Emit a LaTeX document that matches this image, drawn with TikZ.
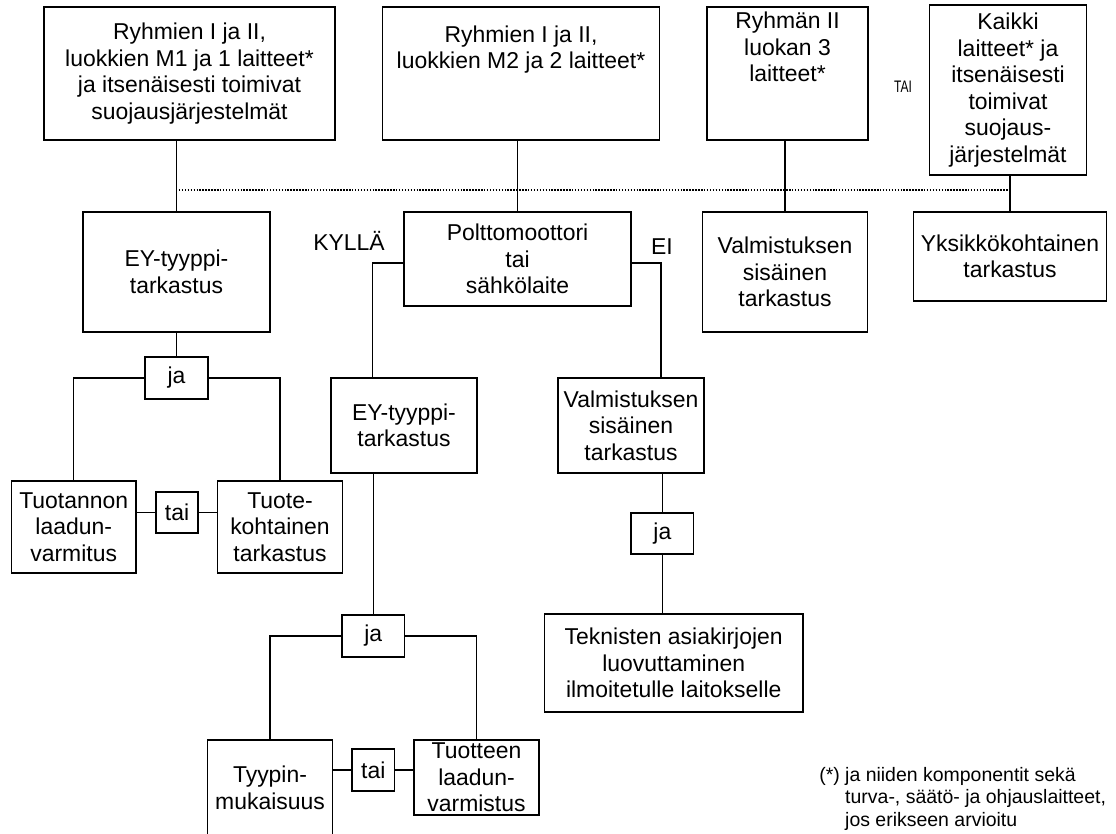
\documentclass[tikz,border=0pt]{standalone}
\usepackage{fontspec}
\setmainfont{Liberation Sans}
\newfontfamily\narrowsans[FakeStretch=0.72]{Liberation Sans}

\begin{document}
\begin{tikzpicture}[x=0.75pt, y=-0.75pt,
    box/.style={draw, line width=0.9pt, align=center, inner sep=0pt,
      font=\fontsize{17.2}{19.9}\selectfont},
    sz/.style 2 args={minimum width=#1*0.75pt, minimum height=#2*0.75pt},
    lbl/.style={inner sep=0pt, font=\fontsize{17.2}{19.9}\selectfont},
    link/.style={line width=0.8pt},
    dotline/.style={line width=1.5pt, dash pattern=on 1.1pt off 1.1pt}]
      \useasboundingbox (0, 0) rectangle (1116, 834);
      \clip (0, 0) rectangle (1116, 834);

      % top row
      \node[box, sz={291}{133}] (grpA) at (189.5, 73.5) {Ryhmien I ja II,\\ luokkien M1 ja 1 laitteet*\\ ja itsenäisesti toimivat\\ suojausjärjestelmät};
      \node[box, sz={277}{133}] (grpB) at (521, 73.5) {Ryhmien I ja II,\\ luokkien M2 ja 2 laitteet*\\ ~\\ ~};
      \node[box, sz={161}{133}] (grpC) at (787.5, 73.5) {Ryhmän II\\ luokan 3\\ laitteet*\\ ~\\ ~};
      \node[box, sz={156.5}{170}] (grpD) at (1008, 90) {Kaikki\\ laitteet* ja\\ itsenäisesti\\ toimivat\\ suojaus-\\ järjestelmät};
      \node[inner sep=0pt, font=\narrowsans\fontsize{12.5}{14}\selectfont] (tai) at (903, 87) {TAI};

      % second row
      \node[box, sz={187}{120}] (eyA) at (176.5, 272) {EY-tyyppi-\\ tarkastus};
      \node[lbl] (kylla) at (349, 241) {KYLLÄ};
      \node[box, sz={227}{94}] (engine) at (517.5, 259) {Polttomoottori\\ tai\\ sähkölaite};
      \node[lbl] (ei) at (662, 247) {EI};
      \node[box, sz={165.5}{120}] (valmC) at (785, 272) {Valmistuksen\\ sisäinen\\ tarkastus};
      \node[box, sz={193}{89}] (unit) at (1010, 256.5) {Yksikkökohtainen\\ tarkastus};

      \foreach \a/\b in {grpA/eyA, grpB/engine, grpC/valmC, grpD/unit} {
        \draw[link] (\a.south -| \b) -- (\b);
      }
      \coordinate (dotL) at (176, 190);
      \draw[dotline] (dotL) -- (dotL -| unit);

      % left branch
      \node[box, sz={63}{42}] (andA) at (176.5, 378) {ja};
      \node[box, sz={124.5}{92}] (prodQA) at (73.7, 527) {Tuotannon\\ laadun-\\ varmitus};
      \node[box, sz={42}{41}] (orA) at (177, 512.5) {tai};
      \node[box, sz={124.5}{92}] (prodChk) at (280, 527) {Tuote-\\ kohtainen\\ tarkastus};

      \draw[link] (eyA) -- (andA);
      \draw[link] (andA.west) -| (prodQA.north);
      \draw[link] (andA.east) -| (prodChk.north);
      \draw[link] (orA.west -| prodQA.east) -- (orA.west);
      \draw[link] (orA.east) -- (orA.east -| prodChk.west);

      % KYLLA branch
      \coordinate (yesTurn) at (372.5, 263);
      \node[box, sz={146}{95}] (eyB) at (404, 425.5) {EY-tyyppi-\\ tarkastus};
      \node[box, sz={62.6}{42}] (andB) at (373.3, 636) {ja};
      \node[box, sz={124.5}{96}] (typeConf) at (270, 788) {Tyypin-\\ mukaisuus};
      \node[box, sz={42.6}{42}] (orB) at (373.3, 770) {tai};
      \node[box, sz={125}{75}] (prodQB) at (476.5, 777.5) {Tuotteen\\ laadun-\\ varmistus};

      \draw[link] (engine.west |- yesTurn) -- (yesTurn) -- (eyB.north -| yesTurn);
      \draw[link] (eyB.south -| andB) -- (andB);
      \draw[link] (andB.west) -| (typeConf.north);
      \draw[link] (andB.east) -| (prodQB.north);
      \draw[link] (orB.west -| typeConf.east) -- (orB.west);
      \draw[link] (orB.east) -- (orB.east -| prodQB.west);

      % EI branch
      \coordinate (noTurn) at (661, 263);
      \node[box, sz={146}{95}] (valmB) at (631, 425.5) {Valmistuksen\\ sisäinen\\ tarkastus};
      \node[box, sz={62.7}{41}] (andC) at (662.4, 533.5) {ja};
      \node[box, sz={258.6}{98}] (docs) at (673.7, 663) {Teknisten asiakirjojen\\ luovuttaminen\\ ilmoitetulle laitokselle};

      \draw[link] (engine.east |- noTurn) -- (noTurn) -- (valmB.north -| noTurn);
      \draw[link] (valmB.south -| andC) -- (andC);
      \draw[link] (andC) -- (andC |- docs.north);

      % footnote
      \node[anchor=north west, inner sep=0pt, font=\fontsize{14.6}{16.9}\selectfont] (note) at (819, 765)
        {\begin{tabular}{@{}l@{ }l@{}}(*) & ja niiden komponentit sekä\\ & turva-, säätö- ja ohjauslaitteet,\\ & jos erikseen arvioitu\end{tabular}};
\end{tikzpicture}
\end{document}
